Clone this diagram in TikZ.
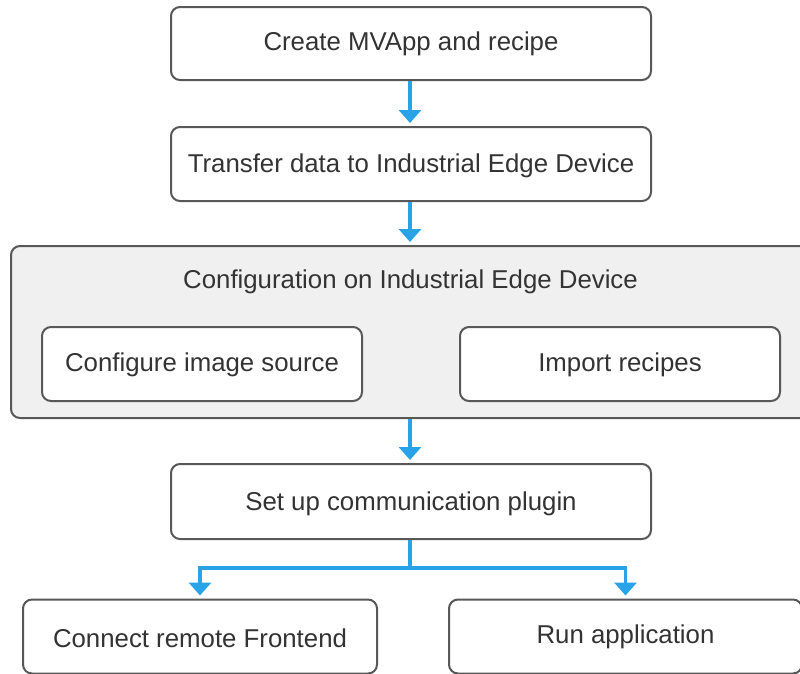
\documentclass[tikz,border=0pt]{standalone}
\usepackage{fontspec}
\setmainfont{Liberation Sans}
\usetikzlibrary{arrows.meta}
\definecolor{flowblue}{RGB}{41,163,232}
\definecolor{edgegray}{RGB}{88,88,88}
\definecolor{txtgray}{RGB}{51,51,51}
\definecolor{panelgray}{RGB}{240,240,240}
\tikzset{
  stepbox/.style={draw=edgegray, line width=2pt, rounded corners=9pt, fill=white,
    text=txtgray, font=\fontsize{25.8}{30}\selectfont, inner sep=0pt, text depth=0pt, text height=18.5pt},
  labeltext/.style={text=txtgray, font=\fontsize{25.8}{30}\selectfont, inner sep=0pt, text depth=0pt, text height=18.5pt},
  panelbox/.style={draw=edgegray, line width=2pt, rounded corners=9pt, fill=panelgray},
  flow/.style={draw=flowblue, line width=3.5pt},
  flowarrow/.style={flow, -{Triangle[width=22pt,length=13pt]}, shorten >=3pt},
}
\begin{document}
\begin{tikzpicture}[x=1pt,y=-1pt]
\useasboundingbox (0,0) rectangle (800,673);
\clip (0,0) rectangle (800,673);
% panel
\node[panelbox, minimum width=799pt, minimum height=172pt] (panel) at (410.5,332) {};
\node[labeltext] (ptitle) at (410.5,279) {Configuration on Industrial Edge Device};
% boxes
\node[stepbox, minimum width=480pt, minimum height=73pt, text height=13.5pt] (b1) at (411,43.5) {Create MVApp and recipe};
\node[stepbox, minimum width=480pt, minimum height=74pt, text height=17pt] (b2) at (411,164) {Transfer data to Industrial Edge Device};
\node[stepbox, minimum width=320pt, minimum height=74pt, text height=14pt] (c1) at (202,364) {Configure image source};
\node[stepbox, minimum width=320pt, minimum height=74pt, text height=14pt] (c2) at (620,364) {Import recipes};
\node[stepbox, minimum width=480pt, minimum height=75pt] (b3) at (411,501.5) {Set up communication plugin};
\node[stepbox, minimum width=354pt, minimum height=74pt, text height=22pt] (d1) at (200,636.5) {Connect remote Frontend};
\node[stepbox, minimum width=353pt, minimum height=74pt] (d2) at (625.5,636.5) {};
\node[labeltext] (d2t) at (625.5,634.5) {Run application};
% connectors
\draw[flowarrow] (b1.south -| 410,0) -- (b2.north -| 410,0);
\draw[flowarrow] (b2.south -| 410,0) -- (panel.north -| 410,0);
\draw[flowarrow] (panel.south -| 410,0) -- (b3.north -| 410,0);
\coordinate (j) at (410,568);
\draw[flow] (b3.south -| 410,0) -- (j);
\draw[flowarrow] (j) -| (d1.north);
\draw[flowarrow] (j) -| (d2.north);
\end{tikzpicture}
\end{document}
